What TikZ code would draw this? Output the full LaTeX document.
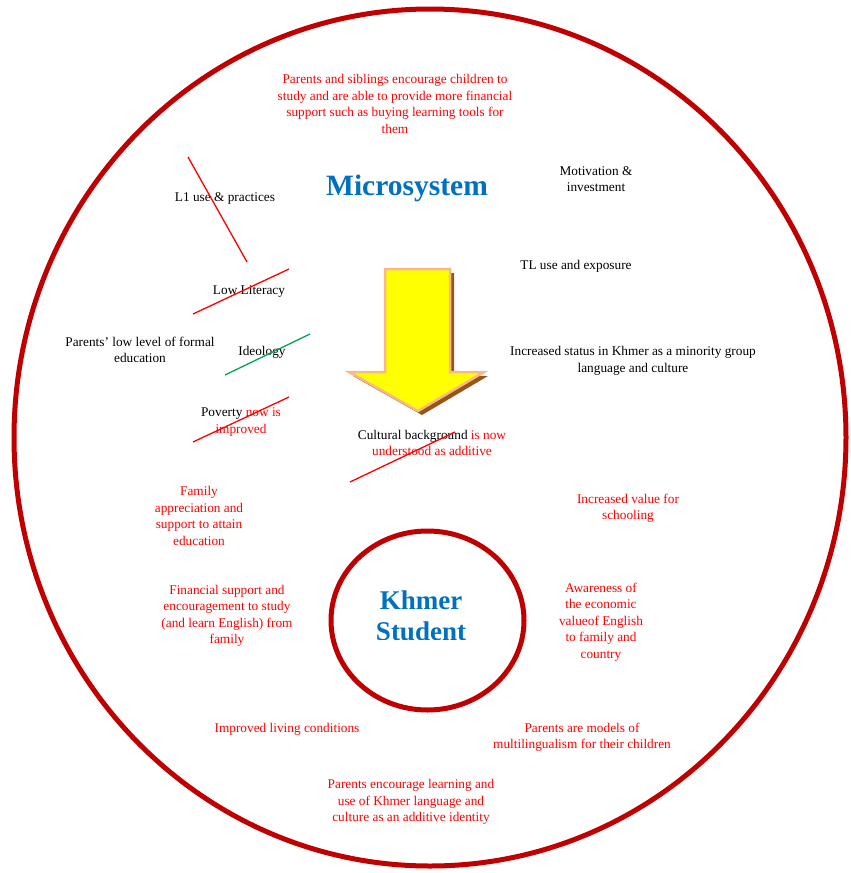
\documentclass[tikz,border=0pt]{standalone}
\usepackage{fontspec}
\setmainfont{Liberation Serif}
\definecolor{ringred}{HTML}{C00000}
\definecolor{txtred}{HTML}{FF0000}
\definecolor{titleblue}{HTML}{0070C0}
\definecolor{arrowfill}{HTML}{FFFF00}
\definecolor{arrowedge}{HTML}{F8B98A}
\definecolor{arrowshade}{HTML}{9A5516}
\definecolor{strikegreen}{HTML}{00A651}
\begin{document}
\begin{tikzpicture}[x=1pt,y=-1pt,
  lbl/.style={align=center,inner sep=0pt,font=\fontsize{13.3}{16.5}\selectfont},
  redlbl/.style={lbl,text=txtred},
  title/.style={align=center,inner sep=0pt,text=titleblue,font=\bfseries\fontsize{27}{31}\selectfont},
  ring/.style={draw=ringred,line width=5pt},
  strike/.style={draw=txtred,line width=1.3pt},
  greenstrike/.style={draw=strikegreen,line width=1.3pt}]
\useasboundingbox (0,0) rectangle (851,873);

% outer ring (microsystem) and inner ring (student)
\draw[ring] (430,437.5) ellipse [x radius=416, y radius=428.5];
\draw[ring] (427.5,620.5) ellipse [x radius=96.5, y radius=89.5];

% downward block arrow with drop shadow
\fill[arrowshade] (389,273) -- (454,273) -- (454,376) -- (488,376) -- (422,415) -- (353,376) -- (389,376) -- cycle;
\draw[draw=arrowedge,fill=arrowfill,line width=2.5pt,line join=miter]
  (385,269) -- (450,269) -- (450,372) -- (484,372) -- (418,411) -- (349,372) -- (385,372) -- cycle;

% titles (the student text box cuts off the foot of its last line)
\node[title,font=\bfseries\fontsize{29.5}{33}\selectfont] (micro) at (407,188.5) {Microsystem};
\begin{scope}
  \clip (330,560) rectangle (525,639);
  \node[title] (student) at (421,616) {Khmer\\Student};
\end{scope}

% labels
\node[redlbl] (siblings) at (395,104) {Parents and siblings encourage children to\\study and are able to provide more financial\\support such as buying learning tools for\\them};
\node[lbl] (l1) at (225,198) {L1 use \& practices};
\node[lbl] (motiv) at (596,179) {Motivation \&\\investment};
\node[lbl] (tl) at (576,266) {TL use and exposure};
\node[lbl] (literacy) at (249,292) {Low Literacy};
\node[lbl] (formal) at (140,350) {Parents’ low level of formal\\education};
\node[lbl] (ideology) at (262,352) {Ideology};
\node[lbl] (status) at (633,361) {Increased status in Khmer as a minority group\\language and culture};
\node[lbl] (poverty) at (241,422) {Poverty \textcolor{txtred}{now is}\\\textcolor{txtred}{improved}};
\node[lbl] (culture) at (432,443) {Cultural background \textcolor{txtred}{is now}\\\textcolor{txtred}{understood as additive}};
\node[redlbl] (value) at (628,508) {Increased value for\\schooling};
\node[redlbl] (family) at (199,516) {Family\\appreciation and\\support to attain\\education};
\node[redlbl] (financial) at (227,616) {Financial support and\\encouragement to study\\(and learn English) from\\family};
\node[redlbl] (aware) at (601,622) {Awareness of\\the economic\\valueof English\\to family and\\country};
\node[redlbl] (living) at (287,729) {Improved living conditions};
\node[redlbl] (models) at (582,737) {Parents are models of\\multilingualism for their children};
\node[redlbl] (identity) at (411,802) {Parents encourage learning and\\use of Khmer language and\\culture as an additive identity};

% strike-through marks
\draw[strike] (188,157) -- (247,262);
\draw[strike] (193,314) -- (289,269);
\draw[greenstrike] (225,375) -- (310,334);
\draw[strike] (193,442) -- (289,397);
\draw[strike] (350,482) -- (455,432);
\end{tikzpicture}
\end{document}
